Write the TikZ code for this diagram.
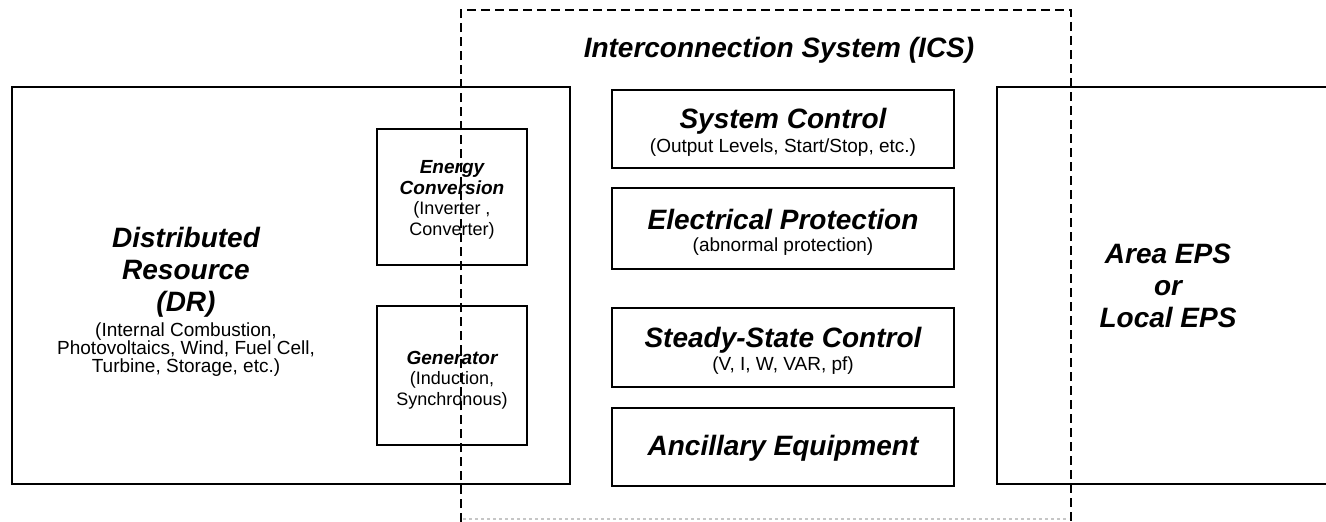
\documentclass[tikz,border=0pt]{standalone}
\usepackage{fontspec}
\setmainfont{Liberation Sans}
\begin{document}
\begin{tikzpicture}[x=1pt, y=-1pt,
  frame/.style={draw, line width=1.8pt, inner sep=0pt, outer sep=0pt, anchor=north west},
  head/.style={font=\fontsize{28}{32}\selectfont\bfseries\itshape, anchor=base, inner sep=0pt},
  note/.style={font=\fontsize{19}{19}\selectfont, anchor=base, inner sep=0pt},
  minihead/.style={font=\fontsize{19}{19}\selectfont\bfseries\itshape, anchor=base, inner sep=0pt},
  mininote/.style={font=\fontsize{18}{18}\selectfont, anchor=base, inner sep=0pt},
  icsline/.style={line width=1.8pt, dash pattern=on 9pt off 5pt},
  icsfoot/.style={line width=1.5pt, gray!45, dash pattern=on 3pt off 3pt},
  openbox/.style={line width=1.8pt}]
\useasboundingbox (0,0) rectangle (1326,522);

% Distributed resource block with its two converter boxes
\node[frame, minimum width=558pt, minimum height=397pt] (dr) at (12,87) {};
\node[frame, minimum width=150pt, minimum height=136pt] (ec) at (377,129) {};
\node[frame, minimum width=150pt, minimum height=139pt] (gen) at (377,306) {};

\node[head] (dr1) at (186,247) {Distributed};
\node[head] (dr2) at (186,279) {Resource};
\node[head] (dr3) at (186,311) {(DR)};
\node[note] (dr4) at (186,336) {(Internal Combustion,};
\node[note] (dr5) at (186,354) {Photovoltaics, Wind, Fuel Cell,};
\node[note] (dr6) at (186,372) {Turbine, Storage, etc.)};

\node[minihead] (ec1) at (452,173) {Energy};
\node[minihead] (ec2) at (452,194) {Conversion};
\node[mininote] (ec3) at (452,214) {(Inverter ,};
\node[mininote] (ec4) at (452,235) {Converter)};

\node[minihead] (gen1) at (452,364) {Generator};
\node[mininote] (gen2) at (452,384) {(Induction,};
\node[mininote] (gen3) at (452,405) {Synchronous)};

% Interconnection system functions
\node[head] (icst) at (779,57) {Interconnection System (ICS)};

\node[frame, minimum width=342pt, minimum height=78pt] (sc) at (612,90) {};
\node[head] (sc1) at (783,128) {System Control};
\node[note] (sc2) at (783,152) {(Output Levels, Start/Stop, etc.)};

\node[frame, minimum width=342pt, minimum height=81pt] (ep) at (612,188) {};
\node[head] (ep1) at (783,229) {Electrical Protection};
\node[note] (ep2) at (783,251) {(abnormal protection)};

\node[frame, minimum width=342pt, minimum height=79pt] (ss) at (612,308) {};
\node[head] (ss1) at (783,347) {Steady-State Control};
\node[note] (ss2) at (783,370) {(V, I, W, VAR, pf)};

\node[frame, minimum width=342pt, minimum height=78pt] (ac) at (612,408) {};
\node[head] (ac1) at (783,455) {Ancillary Equipment};

% Area / local electric power system, open towards the right
\coordinate (epsnw) at (997,87);
\coordinate (epssw) at (997,484);
\draw[openbox] (1326,87) -- (epsnw) -- (epssw) -- (1326,484);
\node[head] (eps1) at (1168,263) {Area EPS};
\node[head] (eps2) at (1168,295) {or};
\node[head] (eps3) at (1168,327) {Local EPS};

% Dashed boundary of the interconnection system
\coordinate (icsbl) at (461,522);
\coordinate (icstl) at (461,10);
\coordinate (icstr) at (1071,10);
\coordinate (icsbr) at (1071,522);
\draw[icsline] (icsbl) -- (icstl) -- (icstr) -- (icsbr);
\draw[icsfoot] (463,519) -- (1069,519);
\end{tikzpicture}
\end{document}
